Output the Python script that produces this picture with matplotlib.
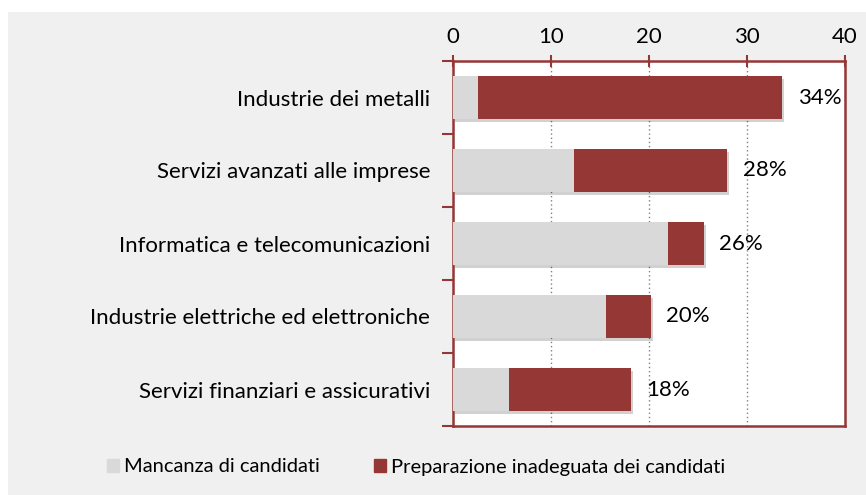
import matplotlib.pyplot as plt
import matplotlib.patheffects as pe
from matplotlib.patches import Rectangle
import numpy as np

plt.rcParams['font.family'] = ['Lato', 'DejaVu Sans']

# data
categories = ['Industrie dei metalli', 'Servizi avanzati alle imprese',
              'Informatica e telecomunicazioni',
              'Industrie elettriche ed elettroniche',
              'Servizi finanziari e assicurativi']
mancanza = [2.5, 12.3, 21.9, 15.6, 5.7]
preparazione = [31.1, 15.7, 3.7, 4.6, 12.5]
totals = ['34%', '28%', '26%', '20%', '18%']
xticks = [0, 10, 20, 30, 40]

RED = '#953735'
GRAY = '#d9d9d9'
BG = '#f0f0f0'
FS = 16

fig = plt.figure(figsize=(8.66, 4.95), dpi=100)
fig.patch.set_facecolor('white')
fig.patches.append(Rectangle((8/866, 0), 1 - 8/866, 1 - 12/495,
                             transform=fig.transFigure, facecolor=BG,
                             edgecolor='none', zorder=-10))

ax = fig.add_axes([453/866, 1 - 426/495, 392/866, 365/495])
ax.set_facecolor('white')

y = np.arange(len(categories))
shadow = [pe.SimplePatchShadow(offset=(1.5, -2), shadow_rgbFace='black', alpha=0.18), pe.Normal()]
b1 = ax.barh(y, mancanza, height=0.59, color=GRAY, label='Mancanza di candidati', zorder=3)
b2 = ax.barh(y, preparazione, left=mancanza, height=0.59, color=RED,
             label='Preparazione inadeguata dei candidati', zorder=3)
for r in list(b1) + list(b2):
    r.set_path_effects(shadow)

for i in range(len(categories)):
    end = mancanza[i] + preparazione[i]
    ax.annotate(totals[i], (end, y[i]), xytext=(11, 0), textcoords='offset points',
                va='center', ha='left', fontsize=FS, color='black', zorder=5)

ax.set_xlim(0, 40)
ax.set_ylim(len(categories) - 0.5, -0.5)
ax.xaxis.tick_top()
ax.set_xticks(xticks)
ax.set_xticklabels([str(t) for t in xticks], fontsize=FS)
ax.tick_params(axis='x', which='major', direction='inout', length=8, width=1.5,
               color=RED, pad=6)

ax.set_yticks(y)
ax.set_yticklabels(categories, fontsize=FS)
ax.tick_params(axis='y', which='major', length=0, pad=16.5)
ax.set_yticks(np.arange(-0.5, len(categories)), minor=True)
ax.tick_params(axis='y', which='minor', length=8, width=1.5, color=RED, direction='out')

for s in ax.spines.values():
    s.set_color(RED)
    s.set_linewidth(1.8)

ax.grid(axis='x', linestyle=(0, (1, 2)), color='#808080', linewidth=1, zorder=1)

handles = [Rectangle((0, 0), 1, 1, color=GRAY), Rectangle((0, 0), 1, 1, color=RED)]
leg = fig.legend(handles, ['Mancanza di candidati', 'Preparazione inadeguata dei candidati'],
                 loc='center', bbox_to_anchor=(416/866, 1 - 467/495), ncol=2, frameon=False,
                 fontsize=14.5, handlelength=0.6, handleheight=0.6, handletextpad=0.25,
                 columnspacing=2.7)

fig.savefig('out.png', dpi=100, facecolor=fig.get_facecolor())
